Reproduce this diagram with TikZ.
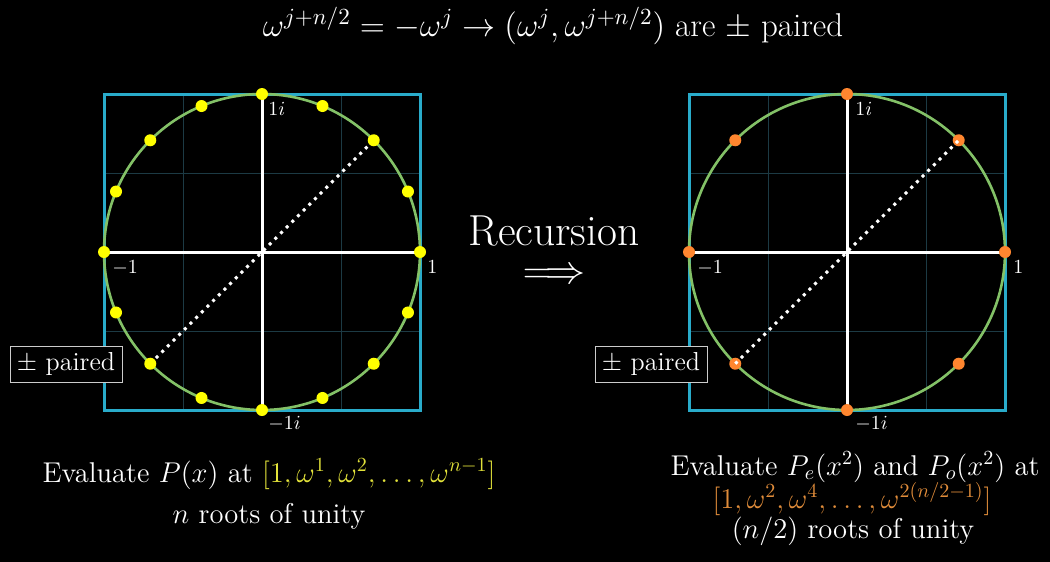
\RequirePackage{fix-cm}
\documentclass[tikz,border=0pt]{standalone}
\usepackage{amsmath}
\definecolor{boxblue}{HTML}{29ABCA}
\definecolor{circgreen}{HTML}{83C167}
\definecolor{dotyellow}{HTML}{FFFF00}
\definecolor{dotorange}{HTML}{FF862F}
\definecolor{gridc}{HTML}{1C3A44}
\definecolor{txtyellow}{HTML}{E2E23A}
\definecolor{txtorange}{HTML}{E08C3A}
\tikzset{
  panelbox/.style={draw=boxblue, line width=1.5pt},
  gridline/.style={draw=gridc, line width=0.5pt},
  unitcirc/.style={draw=circgreen, line width=1.3pt},
  axisline/.style={draw=white, line width=1.5pt},
  pairline/.style={draw=white, line width=1.5pt, dash pattern=on 1.5pt off 2.5pt},
  ydot/.style={circle, fill=dotyellow, inner sep=0pt, minimum size=6pt},
  odot/.style={circle, fill=dotorange, inner sep=0pt, minimum size=6pt},
  axlabel/.style={text=white, font=\fontsize{10}{12}\selectfont, inner sep=0pt, anchor=base west},
  pairbox/.style={draw=white!80!black, line width=0.5pt, fill=black, text=white, font=\fontsize{13}{15}\selectfont, inner sep=2pt, minimum height=18pt, minimum width=56pt},
  bodytext/.style={text=white, font=\fontsize{14.3}{17}\selectfont, anchor=base, inner sep=0pt},
  titletext/.style={text=white, font=\fontsize{16.5}{19}\selectfont, anchor=base, inner sep=0pt},
  bigtext/.style={text=white, font=\fontsize{21.7}{26}\selectfont, inner sep=0pt},
  arrowtext/.style={text=white, font=\fontsize{20}{24}\selectfont, inner sep=0pt},
}
\begin{document}
\begin{tikzpicture}[x=0.5pt,y=-0.5pt]
\fill[black] (0,0) rectangle (1050,562);
\useasboundingbox (0,0) rectangle (1050,562);

\node[titletext] (title) at (553,36) {$\omega^{j+n/2} = -\omega^{j} \rightarrow (\omega^{j}, \omega^{j+n/2})$ are $\pm$ paired};

% left panel
\begin{scope}[shift={(262,252)}, y=0.5pt]
  \foreach \g in {-79,79} {
    \draw[gridline] (\g,-158) -- (\g,158);
    \draw[gridline] (-158,\g) -- (158,\g);
  }
  \draw[panelbox] (-158,-158) rectangle (158,158);
  \draw[unitcirc] (0,0) circle [radius=79pt];
  \foreach \k in {0,...,15} \coordinate (Lp\k) at (\k*22.5:158);
  \draw[axisline] (Lp8) -- (Lp0);
  \draw[axisline] (Lp12) -- (Lp4);
  \draw[pairline] (Lp10) -- (Lp2);
  \foreach \k in {0,...,15} \node[ydot] (Ld\k) at (Lp\k) {};
  \node[axlabel] (Li) at (6,137) {$1i$};
  \node[axlabel] (Lm1) at (-150,-21) {$-1$};
  \node[axlabel] (L1) at (165,-21) {$1$};
  \node[axlabel] (Lmi) at (6,-177) {$-1i$};
\end{scope}

% right panel
\begin{scope}[shift={(847,252)}, y=0.5pt]
  \foreach \g in {-79,79} {
    \draw[gridline] (\g,-158) -- (\g,158);
    \draw[gridline] (-158,\g) -- (158,\g);
  }
  \draw[panelbox] (-158,-158) rectangle (158,158);
  \draw[unitcirc] (0,0) circle [radius=79pt];
  \foreach \k in {0,...,7} \coordinate (Rp\k) at (\k*45:158);
  \draw[axisline] (Rp4) -- (Rp0);
  \draw[axisline] (Rp6) -- (Rp2);
  \foreach \k in {0,...,7} \node[odot] (Rd\k) at (Rp\k) {};
  \draw[pairline] (Rd5.center) -- (Rd1.center);
  \node[axlabel] (Ri) at (8,137) {$1i$};
  \node[axlabel] (Rm1) at (-150,-21) {$-1$};
  \node[axlabel] (R1) at (166,-21) {$1$};
  \node[axlabel] (Rmi) at (8,-177) {$-1i$};
\end{scope}

\node[pairbox] (Lpair) at (66,364) {$\pm$ paired};
\node[pairbox] (Rpair) at (651,364) {$\pm$ paired};

\node[bigtext, anchor=base] (rec) at (554,245) {Recursion};
\node[arrowtext] (arrow) at (554,276) {$\Longrightarrow$};

\node[bodytext] (Ltext1) at (269,482) {Evaluate $P(x)$ at \textcolor{txtyellow}{$[1,\omega^1,\omega^2,\ldots,\omega^{n-1}]$}};
\node[bodytext] (Ltext2) at (269,523) {$n$ roots of unity};

\node[bodytext] (Rtext1) at (855,475) {Evaluate $P_e(x^2)$ and $P_o(x^2)$ at};
\node[bodytext] (Rtext2) at (852,508) {\textcolor{txtorange}{$[1,\omega^2,\omega^4,\ldots,\omega^{2(n/2-1)}]$}};
\node[bodytext] (Rtext3) at (853,538) {$(n/2)$ roots of unity};
\end{tikzpicture}
\end{document}
